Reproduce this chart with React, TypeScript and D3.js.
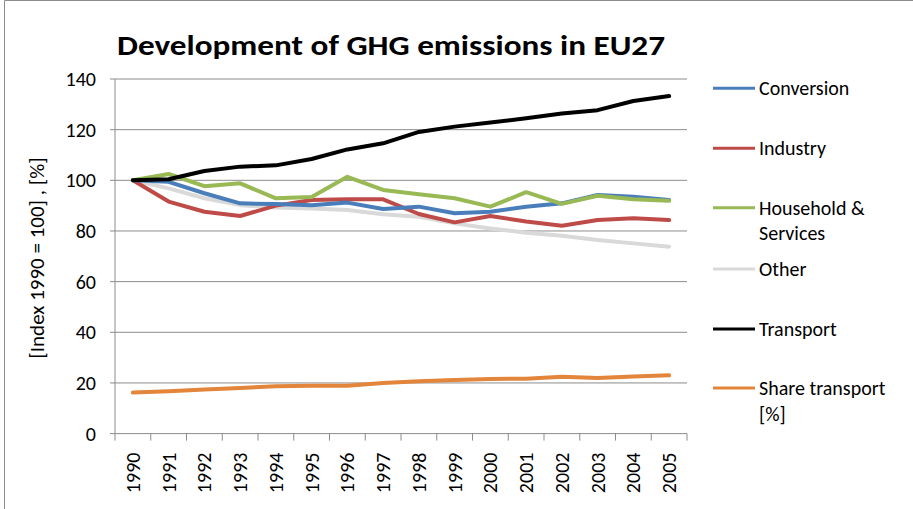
import React from "react";
import * as d3 from "d3";

const years = ["1990","1991","1992","1993","1994","1995","1996","1997","1998","1999","2000","2001","2002","2003","2004","2005"];
const conversion = [100, 99.4, 94.9, 90.9, 90.6, 90.2, 91.2, 88.7, 89.6, 87.0, 87.6, 89.6, 90.9, 94.2, 93.5, 92.2];
const industry = [100, 91.6, 87.6, 85.9, 90.0, 92.2, 92.5, 92.5, 86.7, 83.4, 85.9, 83.7, 82.1, 84.3, 85.0, 84.3];
const household = [100, 102.5, 97.7, 98.8, 92.9, 93.4, 101.4, 96.2, 94.5, 92.9, 89.6, 95.3, 90.7, 93.9, 92.5, 91.9];
const other = [100, 96.8, 92.9, 90.2, 89.3, 88.9, 88.3, 86.6, 85.6, 83.0, 81.0, 79.3, 78.1, 76.4, 75.1, 73.8];
const transport = [100, 100.4, 103.7, 105.4, 105.9, 108.4, 112.2, 114.6, 119.1, 121.2, 122.8, 124.5, 126.4, 127.7, 131.3, 133.3];
const shareTransport = [16.2, 16.7, 17.4, 18.0, 18.7, 18.9, 18.9, 20.0, 20.7, 21.2, 21.6, 21.7, 22.4, 22.0, 22.5, 23.0];
const yTicks = [0, 20, 40, 60, 80, 100, 120, 140];

const seriesNames = ["Conversion", "Industry", "Household & Services", "Other", "Transport", "Share transport [%]"];
const seriesData = [conversion, industry, household, other, transport, shareTransport];
const seriesColors = ["#4A7EBB", "#BE4B48", "#98B954", "#D9D9D9", "#000000", "#E3853A"];
const legendLines = [["Conversion"], ["Industry"], ["Household &", "Services"], ["Other"], ["Transport"], ["Share transport", "[%]"]];

const FONT = "Carlito, Calibri, Lato, 'Open Sans', sans-serif";

export default function App() {
  const left = 115, right = 687, top = 79, bottom = 433.6;
  const x = d3.scaleBand<string>().domain(years).range([left, right]);
  const y = d3.scaleLinear().domain([0, 140]).range([bottom, top]);
  const cx = (yr: string) => (x(yr) as number) + x.bandwidth() / 2;
  const line = d3.line<number>().x((_, i) => cx(years[i])).y((d) => y(d));
  const legendY = [88.3, 148.3, 207.7, 269, 329, 388];
  const gridColor = "#8C8C8C";

  const drawOrder = [5, 3, 1, 0, 2, 4];

  return (
    <svg width={913} height={509} style={{ position: "absolute", left: 0, top: 0, background: "#fff" }} fontFamily={FONT}>
      <rect x={0} y={0} width={913} height={509} fill="#fff" />
      <line x1={4.5} y1={0.5} x2={913} y2={0.5} stroke="#8C8C8C" strokeWidth={1} />
      <line x1={4.5} y1={0.5} x2={4.5} y2={509} stroke="#8C8C8C" strokeWidth={1} />
      <text x={391} y={55} textAnchor="middle" fontSize={28} fontWeight="bold" fill="#000" textLength={548} lengthAdjust="spacingAndGlyphs">
        Development of GHG emissions  in EU27
      </text>
      {yTicks.map((t) => (
        <g key={t}>
          {t > 0 && <line x1={left} x2={right} y1={y(t)} y2={y(t)} stroke={gridColor} strokeWidth={1} />}
          <line x1={left - 5} x2={left} y1={y(t)} y2={y(t)} stroke={gridColor} strokeWidth={1} />
          <text x={96} y={y(t)} dy="0.35em" textAnchor="end" fontSize={20} fill="#000">{t}</text>
        </g>
      ))}
      <line x1={left} x2={left} y1={top} y2={bottom} stroke={gridColor} strokeWidth={1} />
      <line x1={left} x2={right} y1={bottom} y2={bottom} stroke={gridColor} strokeWidth={1} />
      {years.map((yr) => (
        <line key={"t" + yr} x1={(x(yr) as number)} x2={(x(yr) as number)} y1={bottom} y2={bottom + 7} stroke={gridColor} strokeWidth={1} />
      ))}
      <line x1={right} x2={right} y1={bottom} y2={bottom + 7} stroke={gridColor} strokeWidth={1} />
      {years.map((yr) => (
        <text key={yr} transform={`translate(${cx(yr)},${bottom + 19}) rotate(-90)`} textAnchor="end" dy="0.35em" fontSize={20} fill="#000">{yr}</text>
      ))}
      <text transform={`translate(37,258) rotate(-90)`} textAnchor="middle" dy="0.35em" fontSize={21} fill="#000">[Index 1990 = 100] , [%]</text>
      {drawOrder.map((i) => (
        <path key={seriesNames[i]} d={line(seriesData[i]) as string} fill="none" stroke={seriesColors[i]} strokeWidth={4} strokeLinejoin="round" strokeLinecap="round" />
      ))}
      {seriesNames.map((n, i) => (
        <g key={"lg" + n}>
          <line x1={713} x2={755} y1={legendY[i]} y2={legendY[i]} stroke={seriesColors[i]} strokeWidth={3} />
          {legendLines[i].map((t, j) => (
            <text key={t} x={759} y={legendY[i] + j * 25.5} dy="0.35em" fontSize={20} fill="#000">{t}</text>
          ))}
        </g>
      ))}
    </svg>
  );
}
